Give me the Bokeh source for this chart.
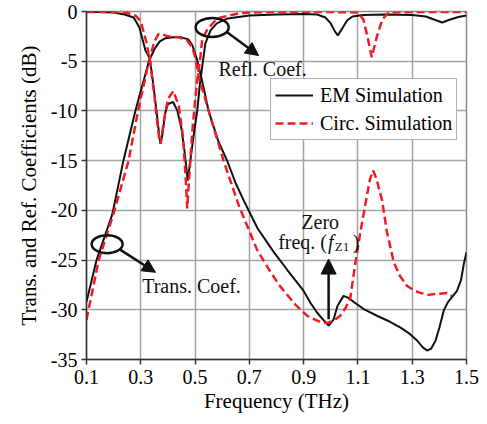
from bokeh.plotting import figure
from bokeh.models import (Range1d, FixedTicker, Legend, LegendItem, Arrow, NormalHead)
from bokeh.core.properties import value
from bokeh.embed import file_html
from bokeh.resources import INLINE

# ---------------- data ----------------
em_s21_f = [0.10, 0.137, 0.195, 0.236, 0.28, 0.33, 0.35, 0.37, 0.39, 0.42, 0.45, 0.475, 0.49,
            0.508, 0.526, 0.55, 0.585, 0.618, 0.65, 0.679, 0.73, 0.79, 0.84, 0.90, 0.925, 0.95,
            0.975, 0.992, 1.01, 1.025, 1.047, 1.065, 1.084, 1.12, 1.17, 1.21, 1.257, 1.29, 1.318,
            1.34, 1.355, 1.37, 1.386, 1.40, 1.416, 1.43, 1.441, 1.465, 1.48, 1.49, 1.50]
em_s21_db = [-29.2, -25.0, -20.4, -15.0, -10.0, -5.0, -3.8, -3.0, -2.7, -2.6, -2.6, -2.8, -3.4,
             -4.9, -7.0, -10.0, -13.0, -15.0, -17.3, -19.0, -21.8, -24.2, -26.0, -28.1, -29.3, -30.3,
             -31.1, -31.6, -31.0, -29.6, -28.6, -28.8, -29.2, -29.9, -30.6, -31.1, -31.8, -32.4, -33.1,
             -33.8, -34.1, -33.9, -33.1, -31.8, -30.1, -29.3, -28.9, -28.1, -27.0, -25.4, -24.2]

em_s11_f = [0.10, 0.15, 0.20, 0.24, 0.274, 0.295, 0.317, 0.333, 0.346, 0.36, 0.368, 0.373, 0.38,
            0.39, 0.40, 0.419, 0.435, 0.45, 0.46, 0.473, 0.485, 0.497, 0.508, 0.517, 0.526, 0.538,
            0.557, 0.58, 0.62, 0.70, 0.80, 0.90, 0.95, 0.98, 1.00, 1.015, 1.026, 1.04, 1.06, 1.08,
            1.12, 1.20, 1.30, 1.35, 1.38, 1.41, 1.44, 1.47, 1.50]
em_s11_db = [-0.05, -0.05, -0.1, -0.3, -0.6, -1.6, -3.9, -4.7, -7.3, -10.5, -12.5, -13.3, -12.3,
             -10.2, -9.3, -9.1, -10.0, -11.8, -13.8, -17.0, -14.5, -12.0, -10.0, -7.5, -5.6, -3.2,
             -1.9, -1.2, -0.7, -0.4, -0.3, -0.25, -0.3, -0.6, -1.2, -2.0, -2.4, -1.8, -0.9, -0.5,
             -0.35, -0.3, -0.35, -0.5, -0.8, -1.1, -0.8, -0.55, -0.4]

circ_s21_f = [0.10, 0.145, 0.20, 0.255, 0.29, 0.33, 0.35, 0.366, 0.38, 0.40, 0.44, 0.47, 0.49,
              0.50, 0.514, 0.55, 0.605, 0.661, 0.729, 0.78, 0.815, 0.87, 0.913, 0.95, 0.974, 0.99,
              1.01, 1.035, 1.055, 1.072, 1.09, 1.109, 1.13, 1.145, 1.156, 1.168, 1.189, 1.207,
              1.232, 1.255, 1.281, 1.31, 1.33, 1.36, 1.392, 1.428, 1.445]
circ_s21_db = [-31.0, -25.0, -20.3, -15.0, -10.0, -5.0, -3.0, -2.25, -2.3, -2.5, -2.6, -2.9, -3.6,
               -4.6, -6.6, -10.0, -15.0, -19.5, -24.0, -26.3, -27.7, -29.5, -30.6, -31.1, -31.3, -31.3,
               -31.1, -30.6, -29.8, -28.8, -25.4, -22.2, -19.0, -16.8, -16.0, -16.8, -19.0, -22.2,
               -25.2, -26.6, -27.6, -28.1, -28.3, -28.5, -28.4, -28.3, -28.6]

circ_s11_f = [0.10, 0.20, 0.25, 0.28, 0.30, 0.32, 0.335, 0.35, 0.36, 0.368, 0.373, 0.385, 0.40,
              0.42, 0.44, 0.455, 0.465, 0.471, 0.48, 0.49, 0.50, 0.51, 0.52, 0.526, 0.545, 0.575,
              0.594, 0.65, 0.70, 0.80, 1.00, 1.10, 1.12, 1.135, 1.151, 1.17, 1.19, 1.213, 1.30, 1.50]
circ_s11_db = [-0.05, -0.05, -0.15, -0.4, -1.0, -3.0, -5.2, -8.5, -11.0, -12.8, -13.3, -11.0, -8.8,
               -8.0, -9.5, -12.5, -16.5, -19.8, -16.0, -12.0, -9.0, -6.5, -4.5, -2.9, -1.8, -0.9,
               -0.6, -0.25, -0.1, -0.05, -0.05, -0.1, -0.8, -2.5, -4.6, -2.5, -0.8, -0.1, -0.05, -0.05]

x_ticks = [0.1, 0.3, 0.5, 0.7, 0.9, 1.1, 1.3, 1.5]
x_tick_labels = ["0.1", "0.3", "0.5", "0.7", "0.9", "1.1", "1.3", "1.5"]
y_ticks = [-35, -30, -25, -20, -15, -10, -5, 0]
y_tick_labels = ["-35", "-30", "-25", "-20", "-15", "-10", "-5", "0"]

series_labels = ["EM Simulation", "Circ. Simulation"]

# ---------------- figure ----------------
FONT = "Liberation Serif"
p = figure(width=487, height=424, output_backend="svg", toolbar_location=None,
           x_range=Range1d(0.1, 1.5), y_range=Range1d(-35, 0))
p.min_border_left = 86
p.min_border_right = 21
p.min_border_top = 11
p.min_border_bottom = 65
p.background_fill_color = "white"
p.border_fill_color = "white"
p.outline_line_color = "#8c8c8c"
p.outline_line_width = 1.5

p.xaxis.ticker = FixedTicker(ticks=x_ticks)
p.yaxis.ticker = FixedTicker(ticks=y_ticks)
p.xaxis.major_label_overrides = {t: l for t, l in zip(x_ticks, x_tick_labels)}
p.yaxis.major_label_overrides = {t: l for t, l in zip(y_ticks, y_tick_labels)}

for ax in (p.xaxis[0], p.yaxis[0]):
    ax.axis_line_color = "#333333"
    ax.axis_line_width = 1.5
    ax.major_tick_line_color = "#333333"
    ax.major_tick_line_width = 1.5
    ax.major_tick_out = 5
    ax.major_tick_in = 0
    ax.minor_tick_line_color = None
    ax.major_label_text_font = FONT
    ax.major_label_text_font_size = "20px"
    ax.major_label_text_color = "black"
    ax.axis_label_text_font = FONT
    ax.axis_label_text_font_size = "21px"
    ax.axis_label_text_font_style = "normal"
    ax.axis_label_text_color = "black"

p.xaxis.axis_label = "Frequency (THz)"
p.yaxis.axis_label = "Trans. and Ref. Coefficients (dB)"
p.xaxis.major_label_standoff = 5
p.yaxis.major_label_standoff = 4
p.xaxis.axis_label_standoff = 2
p.yaxis.axis_label_standoff = 7

p.xgrid.grid_line_color = "#a3a3a3"
p.ygrid.grid_line_color = "#a3a3a3"
p.xgrid.grid_line_width = 1.5
p.ygrid.grid_line_width = 1.5

# ---------------- curves ----------------
BLACK = "#111111"
RED = "#ee1c24"
r_em21 = p.line(em_s21_f, em_s21_db, line_color=BLACK, line_width=2)
r_em11 = p.line(em_s11_f, em_s11_db, line_color=BLACK, line_width=2)
r_c21 = p.line(circ_s21_f, circ_s21_db, line_color=RED, line_width=2.5, line_dash="8 4")
r_c11 = p.line(circ_s11_f, circ_s11_db, line_color=RED, line_width=2.5, line_dash="8 4")

# ---------------- annotations ----------------
p.ellipse(x=[0.563, 0.176], y=[-1.6, -23.4], width=[33, 31], height=[19, 18],
          width_units="screen", height_units="screen", angle=[0.0, 0.0],
          fill_color=None, line_color=BLACK, line_width=2.5)

def arrow(xs, ys, xe, ye, size):
    p.add_layout(Arrow(end=NormalHead(size=size, fill_color=BLACK, line_color=BLACK),
                       x_start=xs, y_start=ys, x_end=xe, y_end=ye,
                       line_color=BLACK, line_width=2.5))

arrow(0.618, -2.08, 0.734, -4.43, 13)
arrow(0.225, -23.97, 0.354, -26.23, 13)
arrow(0.992, -30.96, 0.992, -24.9, 15)

def label(x, y, t, align="left", size="20px", style="normal", yoff=0):
    p.text(x=[x], y=[y], text=[t], text_font=value(FONT), text_font_size=value(size),
           text_font_style=style, text_align=align, text_baseline="middle",
           text_color=BLACK, y_offset=yoff)

label(0.586, -5.75, "Refl. Coef.")
label(0.305, -27.6, "Trans. Coef.")
label(0.961, -21.2, "Zero", align="center")
label(0.986, -23.2, "freq. (", align="right")
label(0.990, -23.2, "f", style="italic")
label(1.015, -23.2, "Z1", size="13px", yoff=4)
label(1.081, -23.2, ")")

# ---------------- legend ----------------
legend = Legend(items=[LegendItem(label=series_labels[0], renderers=[r_em21]),
                       LegendItem(label=series_labels[1], renderers=[r_c21])],
                location=(184, 219))
legend.label_text_font = FONT
legend.label_text_font_size = "20px"
legend.label_text_color = "black"
legend.border_line_color = "#666666"
legend.border_line_width = 1.5
legend.background_fill_color = "white"
legend.background_fill_alpha = 1.0
legend.padding = 4
legend.spacing = 4
legend.margin = 0
legend.glyph_width = 38
legend.glyph_height = 24
legend.label_height = 24
legend.label_standoff = 7
p.add_layout(legend)

open("out.html", "w").write(file_html(p, INLINE))
